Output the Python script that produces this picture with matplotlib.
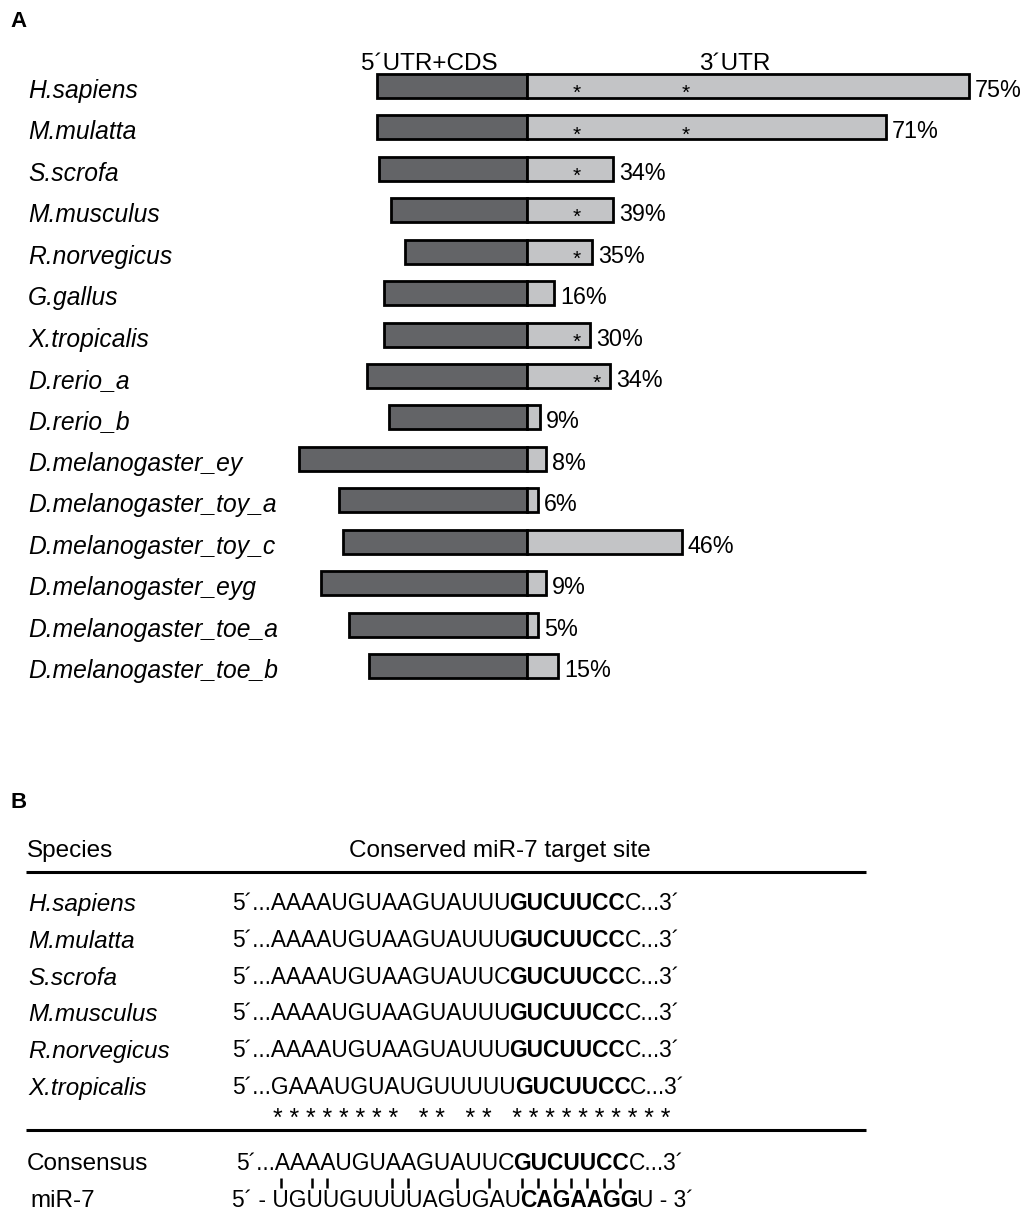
import matplotlib
matplotlib.use('Agg')
import matplotlib.pyplot as plt
from matplotlib.font_manager import FontProperties, findfont
from matplotlib.ft2font import FT2Font

plt.rcParams['font.family'] = 'Liberation Sans'

# panel A: Pax6 transcripts, length of 5'UTR+CDS and of the 3'UTR (arbitrary units)
species_a = ['H.sapiens', 'M.mulatta', 'S.scrofa', 'M.musculus', 'R.norvegicus',
             'G.gallus', 'X.tropicalis', 'D.rerio_a', 'D.rerio_b',
             'D.melanogaster_ey', 'D.melanogaster_toy_a', 'D.melanogaster_toy_c',
             'D.melanogaster_eyg', 'D.melanogaster_toe_a', 'D.melanogaster_toe_b']
cds_len = [150, 150, 148, 136, 122, 143, 143, 160, 138, 228, 188, 184, 206, 178, 158]
utr_len = [442, 359, 86, 86, 65, 27, 63, 83, 13, 19, 11, 155, 19, 11, 31]
utr_pct = [75, 71, 34, 39, 35, 16, 30, 34, 9, 8, 6, 46, 9, 5, 15]
# miR-7 sites inside the 3'UTR (same units)
site_pos = [[50, 159], [50, 159], [50], [50], [50], [], [50], [70], [], [], [], [], [], [], []]

# panel B: the conserved site
species_b = ['H.sapiens', 'M.mulatta', 'S.scrofa', 'M.musculus', 'R.norvegicus', 'X.tropicalis']
site_seq = ['AAAAUGUAAGUAUUUGUCUUCCC',
            'AAAAUGUAAGUAUUUGUCUUCCC',
            'AAAAUGUAAGUAUUCGUCUUCCC',
            'AAAAUGUAAGUAUUUGUCUUCCC',
            'AAAAUGUAAGUAUUUGUCUUCCC',
            'GAAAUGUAUGUUUUUGUCUUCCC']
consensus = 'AAAAUGUAAGUAUUCGUCUUCCC'
mir7 = 'UGUUGUUUUAGUGAUCAGAAGGU'
seed = (15, 22)  # bold stretch
star_row = '* * * * * * * *   * *   * *   * * * * * * * * * *'

dark = '#636467'
light = '#c3c4c6'
seq_size = 16.4

fig = plt.figure(figsize=(10.27, 12.24), dpi=100)
ax = fig.add_axes([0, 0, 1, 1])
ax.set_xlim(0, 1027)
ax.set_ylim(1224, 0)
ax.axis('off')
renderer = fig.canvas.get_renderer()


def lsb(ch, weight, size):
    f = FT2Font(findfont(FontProperties(family='Liberation Sans', weight=weight)), hinting_factor=1)
    f.set_size(size, 100)
    return f.load_char(ord(ch)).horiBearingX / 64


def adv(s, weight, size):
    # pen advance of s as the renderer lays it out (ink width of s+'I' minus the 'I')
    if not s:
        return 0.0
    fp = FontProperties(family='Liberation Sans', size=size, weight=weight)
    w1 = renderer.get_text_width_height_descent(s + 'I', fp, ismath=False)[0]
    w2 = renderer.get_text_width_height_descent('I', fp, ismath=False)[0]
    return w1 - w2 - lsb('I', weight, size) + lsb(s[0], weight, size)


def draw_seq(x, y, head, core, tail, size=seq_size):
    pre = head + core[:seed[0]]
    mid = core[seed[0]:seed[1]]
    post = core[seed[1]:] + tail
    w_pre = adv(pre, 'normal', size)
    w_mid = adv(mid, 'bold', size)
    ax.text(x, y, pre, fontsize=size, va='baseline')
    ax.text(x + w_pre, y, mid, fontsize=size, fontweight='bold', va='baseline')
    ax.text(x + w_pre + w_mid, y, post, fontsize=size, va='baseline')
    centers = []
    for k in range(len(core)):
        if k < seed[0]:
            a = adv(head + core[:k], 'normal', size)
            b = adv(head + core[:k + 1], 'normal', size)
        elif k < seed[1]:
            a = w_pre + adv(core[seed[0]:k], 'bold', size)
            b = w_pre + adv(core[seed[0]:k + 1], 'bold', size)
        else:
            a = w_pre + w_mid + adv(core[seed[1]:k], 'normal', size)
            b = w_pre + w_mid + adv(core[seed[1]:k + 1], 'normal', size)
        centers.append(x + (a + b) / 2)
    return centers


# ---------------- A ----------------
x0 = 527
rows = [86 + 41.43 * i for i in range(len(species_a))]

ax.text(10, 27, 'A', fontsize=16, fontweight='bold', va='baseline')
ax.text(x0 - 98, 70, '5´UTR+CDS', fontsize=17.5, ha='center', va='baseline')
ax.text(x0 + 208, 70, '3´UTR', fontsize=17.5, ha='center', va='baseline')

ax.barh(rows, [-c for c in cds_len], left=x0, height=24, color=dark, edgecolor='black', linewidth=2)
ax.barh(rows, utr_len, left=x0, height=24, color=light, edgecolor='black', linewidth=2)

for i, name in enumerate(species_a):
    ax.text(28, rows[i] + 12, name, fontsize=17.7, style='italic', va='baseline')
    ax.text(x0 + utr_len[i] + 6, rows[i] + 11, f'{utr_pct[i]}%', fontsize=16.8, va='baseline')
    for s in site_pos[i]:
        ax.text(x0 + s, rows[i] + 13, '*', fontsize=15, ha='center', va='baseline')

# ---------------- B ----------------
ax.text(10, 808, 'B', fontsize=16, fontweight='bold', va='baseline')
ax.text(27, 857, 'Species', fontsize=17.5, va='baseline')
ax.text(500, 857, 'Conserved miR-7 target site', fontsize=17.5, ha='center', va='baseline')
ax.plot([26, 866], [872, 872], color='black', lw=2.2, solid_capstyle='butt')

for i, name in enumerate(species_b):
    yc = 903 + 36.6 * i
    ax.text(28, yc + 8.5, name, fontsize=17.5, style='italic', va='baseline')
    draw_seq(232, yc + 7.5, '5´...', site_seq[i], '...3´')

ax.text(273, 1126, star_row, fontsize=17.8, va='baseline')
ax.plot([26, 866], [1130, 1130], color='black', lw=2.2, solid_capstyle='butt')

ax.text(27, 1170, 'Consensus', fontsize=17.5, va='baseline')
cons_x = draw_seq(236, 1170, '5´...', consensus, '...3´')
ax.text(30, 1207, 'miR-7', fontsize=17.5, va='baseline')
draw_seq(232, 1207, '5´ - ', mir7, ' - 3´')

wc = {('A', 'U'), ('U', 'A'), ('G', 'C'), ('C', 'G')}
pair_x = [cons_x[k] for k in range(len(consensus)) if (consensus[k], mir7[k]) in wc]
ax.vlines(pair_x, 1178, 1188, color='black', lw=1.8)

fig.savefig('out.png', dpi=100)
